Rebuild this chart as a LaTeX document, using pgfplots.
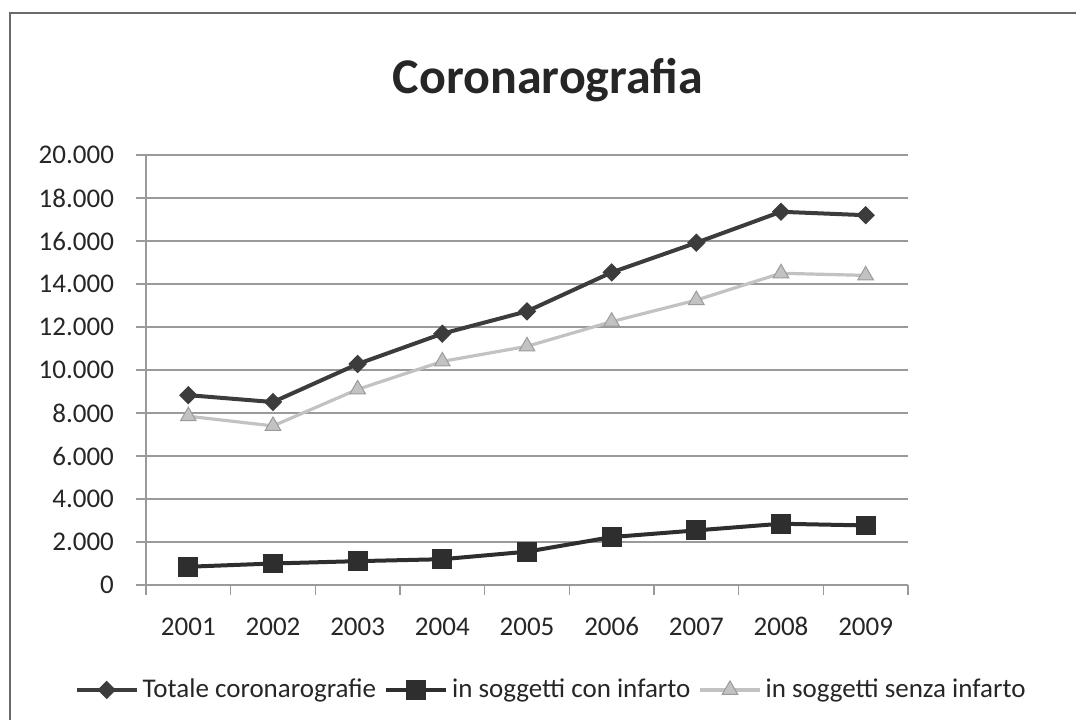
\documentclass[border=0pt]{standalone}
\usepackage{pgfplots}
\pgfplotsset{compat=1.18}
\usepackage{fontspec}
\setmainfont{Carlito}
\definecolor{tot}{HTML}{3C3C3C}
\definecolor{con}{HTML}{2E2E2E}
\definecolor{sen}{HTML}{C2C2C2}
\definecolor{gridc}{HTML}{9A9A9A}
\definecolor{framec}{HTML}{6A6A6A}
\begin{document}
\begin{tikzpicture}
\path[use as bounding box] (0pt,0pt) rectangle (538pt,360pt);
\draw[framec, line width=1pt] (5pt,0pt) -- (5pt,353.5pt) -- (538pt,353.5pt);
\node[font=\fontsize{25}{30}\selectfont\bfseries, text=black!85, anchor=base] at (274pt,313.5pt) {Coronarografia};
\begin{axis}[
  at={(73pt,67.5pt)}, anchor=south west,
  scale only axis, width=381pt, height=215pt,
  xmin=-0.5, xmax=8.5, ymin=0, ymax=20000,
  axis x line*=bottom, axis y line*=left,
  axis line style={gridc, line width=0.6pt},
  xtick={-0.5,0.5,...,8.5}, xticklabels={},
  extra x ticks={0,1,2,3,4,5,6,7,8},
  extra x tick labels={2001,2002,2003,2004,2005,2006,2007,2008,2009},
  extra x tick style={major tick length=0pt},
  ytick={0,2000,...,20000},
  tick align=outside, major tick length=5pt,
  tick style={gridc, line width=0.6pt},
  ymajorgrids, grid style={gridc, line width=0.6pt},
  scaled y ticks=false,
  /pgf/number format/1000 sep={.},
  /pgf/number format/assume math mode=true,
  ticklabel style={font=\fontsize{13.5}{16}\selectfont, text=black!85},
  yticklabel style={xshift=-7.5pt},
  xticklabel style={yshift=-12pt, text height=9.5pt, text depth=0pt},
  legend columns=3,
  legend style={at={(0.533,-0.244)}, anchor=center, draw=none, fill=none,
    font=\fontsize{13.5}{16}\selectfont, text=black!85,
    /tikz/every even column/.append style={column sep=2pt}},
  legend image code/.code={\draw[mark repeat=2,mark phase=2,#1] plot coordinates {(0pt,0pt)(15pt,0pt)(30pt,0pt)};},
]
\addplot[tot, line width=2pt, mark=square*, mark size=3pt, mark options={rotate=45, fill=tot, draw=tot, line width=0.5pt}]
  coordinates {(0,8830) (1,8510) (2,10280) (3,11690) (4,12730) (5,14540) (6,15920) (7,17360) (8,17200)};
\addlegendentry{Totale coronarografie}
\addplot[con, line width=2pt, mark=square*, mark size=4.7pt, mark options={fill=con, draw=con, line width=0.5pt}]
  coordinates {(0,850) (1,1000) (2,1110) (3,1200) (4,1550) (5,2230) (6,2540) (7,2850) (8,2770)};
\addlegendentry{in soggetti con infarto}
\addplot[sen, line width=1.6pt, mark=triangle*, mark size=4.5pt, mark options={fill=sen, draw=sen!80!black, line width=0.5pt}]
  coordinates {(0,7850) (1,7400) (2,9100) (3,10400) (4,11100) (5,12250) (6,13250) (7,14500) (8,14400)};
\addlegendentry{in soggetti senza infarto}
\end{axis}
\end{tikzpicture}
\end{document}
